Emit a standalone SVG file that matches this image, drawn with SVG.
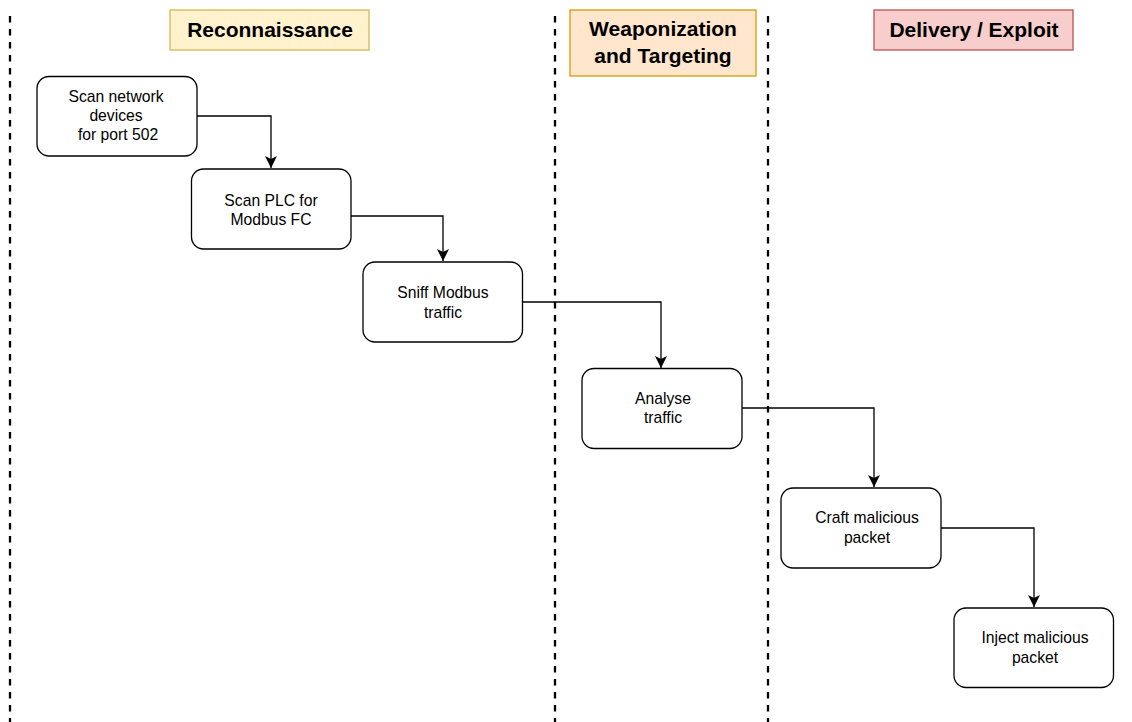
<svg xmlns="http://www.w3.org/2000/svg" width="1132" height="722" viewBox="0 0 1132 722">
<defs>
<marker id="arr" markerWidth="12" markerHeight="12" refX="10" refY="5" orient="auto" markerUnits="userSpaceOnUse" viewBox="0 0 10 10">
<path d="M0,0 L10,5 L0,10 L2.5,5 Z" fill="#000"/>
</marker>
<style>
.lane{stroke:#000;stroke-width:2.3;stroke-dasharray:6.5 6.5;fill:none}
.node rect{fill:#fff;stroke:#000;stroke-width:1.3}
.node text{font-family:"Liberation Sans",Arial,sans-serif;font-size:15.7px;fill:#000;text-anchor:middle}
.title text{font-family:"Liberation Sans",Arial,sans-serif;font-size:21px;font-weight:bold;fill:#000;text-anchor:middle}
.conn path{stroke:#000;stroke-width:1.3;fill:none;marker-end:url(#arr)}
</style>
</defs>
<rect width="1132" height="722" fill="#fff"/>
<g id="lanes">
<line class="lane" x1="10" y1="16" x2="10" y2="722"/>
<line class="lane" x1="555" y1="16" x2="555" y2="722"/>
<line class="lane" x1="768" y1="16" x2="768" y2="722"/>
</g>
<g id="title-recon" class="title">
<rect x="170" y="10" width="199" height="40" fill="#fff2cc" stroke="#d6b656" stroke-width="1.3"/>
<text x="270" y="37">Reconnaissance</text>
</g>
<g id="title-weapon" class="title">
<rect x="570" y="10" width="186" height="66" fill="#ffe6cc" stroke="#d79b00" stroke-width="1.3"/>
<text x="663" y="36">Weaponization</text>
<text x="663" y="63">and Targeting</text>
</g>
<g id="title-delivery" class="title">
<rect x="874" y="10" width="199" height="40" fill="#f8cecc" stroke="#b85450" stroke-width="1.3"/>
<text x="974" y="37">Delivery / Exploit</text>
</g>
<g id="conns" class="conn">
<path d="M197,116 H271 V168"/>
<path d="M351,216 H443 V261"/>
<path d="M522,302 H661 V368"/>
<path d="M742,408 H874 V487"/>
<path d="M941,528 H1034 V607"/>
</g>
<g id="n1" class="node">
<rect x="37" y="76.5" width="160" height="79.5" rx="12"/>
<text x="116" y="102">Scan network</text>
<text x="116" y="121">devices</text>
<text x="118" y="140">for port 502</text>
</g>
<g id="n2" class="node">
<rect x="191.5" y="169" width="159.5" height="80" rx="12"/>
<text x="271" y="205.5">Scan PLC for</text>
<text x="271" y="225">Modbus FC</text>
</g>
<g id="n3" class="node">
<rect x="363" y="262" width="159.5" height="80" rx="12"/>
<text x="443" y="298">Sniff Modbus</text>
<text x="443" y="318">traffic</text>
</g>
<g id="n4" class="node">
<rect x="582" y="368.5" width="160" height="80" rx="12"/>
<text x="663" y="404">Analyse</text>
<text x="663" y="423">traffic</text>
</g>
<g id="n5" class="node">
<rect x="781" y="488" width="160" height="80" rx="12"/>
<text x="867" y="523">Craft malicious</text>
<text x="867" y="543">packet</text>
</g>
<g id="n6" class="node">
<rect x="954" y="608" width="159.5" height="79.5" rx="12"/>
<text x="1035" y="643">Inject malicious</text>
<text x="1035" y="663">packet</text>
</g>
</svg>
